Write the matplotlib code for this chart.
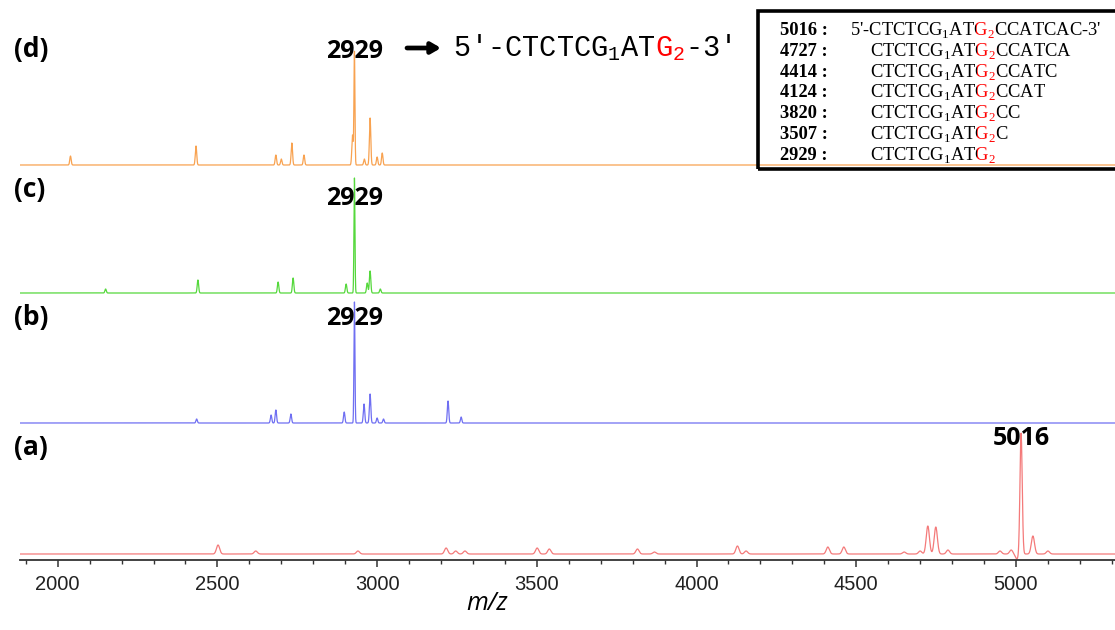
import numpy as np
import matplotlib.pyplot as plt
from matplotlib.ticker import MultipleLocator
from matplotlib.patches import Rectangle
from matplotlib.transforms import Bbox

plt.rcParams["mathtext.fontset"] = "custom"
plt.rcParams["mathtext.rm"] = "Liberation Serif"
plt.rcParams["mathtext.tt"] = "Liberation Mono"

W, H = 1115, 630

# peak lists: m/z and height above each trace's own baseline
a_mz = [2502, 2620, 2940, 3216, 3246, 3275, 3501, 3539, 3815, 3868, 4128, 4155,
        4411, 4461, 4650, 4700, 4724, 4749, 4787, 4950, 4985, 5003, 5016, 5053, 5100]
a_int = [9, 3, 3, 6, 3, 3, 6, 5, 5, 2, 8, 3,
         7, 7, 2, 3, 28, 27, 4, 3, 4, -5, 121, 18, 3]

b_mz = [2435, 2668, 2683, 2730, 2897, 2929, 2959, 2978, 3000, 3020, 3222, 3263]
b_int = [4, 8, 13, 9, 11, 121, 19, 29, 5, 4, 22, 6]

c_mz = [2150, 2439, 2690, 2737, 2903, 2929, 2969, 2978, 3010]
c_int = [4, 13, 11, 15, 9, 115, 10, 22, 4]

d_mz = [2040, 2433, 2683, 2700, 2733, 2771, 2923, 2929, 2960, 2978, 3000, 3016]
d_int = [9, 19, 10, 6, 22, 10, 30, 113, 6, 47, 8, 12]

# stacking offsets (bottom to top)
offsets = {"a": 6, "b": 137, "c": 267, "d": 395}
colors = {"a": "#f47a7a", "b": "#6f6ff2", "c": "#55d83c", "d": "#f8a250"}
widths = {"a": 5.0, "b": 2.2, "c": 2.2, "d": 2.2}

table_mass = [5016, 4727, 4414, 4124, 3820, 3507, 2929]
table_tail = ["CCATCAC-3'", "CCATCA", "CCATC", "CCAT", "CC", "C", ""]

mz = np.arange(1878, 5314, 0.5)


def trace(centers, heights, sigma):
    y = np.zeros_like(mz)
    for c, h in zip(centers, heights):
        s = sigma * 0.7 if abs(h) > 50 else sigma
        y += h * np.exp(-0.5 * ((mz - c) / s) ** 2)
    return y


fig = plt.figure(figsize=(W / 100, H / 100), dpi=100)
ax = fig.add_axes([20 / W, 1 - 560 / H, 1 - 20 / W, 560 / H])

series = {"a": (a_mz, a_int), "b": (b_mz, b_int), "c": (c_mz, c_int), "d": (d_mz, d_int)}
for key, (cs, hs) in series.items():
    ax.plot(mz, offsets[key] + trace(cs, hs, widths[key]), color=colors[key], lw=0.9)

ax.set_xlim(1882, 5310)
ax.set_ylim(0, 560)
for s in ["top", "right", "left"]:
    ax.spines[s].set_visible(False)
ax.spines["bottom"].set_color("#333333")
ax.spines["bottom"].set_linewidth(1.3)
ax.set_yticks([])
ax.xaxis.set_major_locator(MultipleLocator(500))
ax.xaxis.set_minor_locator(MultipleLocator(100))
ax.tick_params(axis="x", which="major", length=5, width=1.1, color="#333333", pad=6,
               labelsize=14.5, labelcolor="#222222")
ax.tick_params(axis="x", which="minor", length=3, width=1.0, color="#333333")
ax.set_xticks([2000, 2500, 3000, 3500, 4000, 4500, 5000])
for lab in ax.get_xticklabels():
    lab.set_family("Liberation Sans")

fig.text(487 / W, 1 - 604 / H, "m/z", fontsize=18, style="italic", family="Open Sans",
         ha="center", va="center")

# panel letters
for key, py in zip(["d", "c", "b", "a"], [49, 190, 318, 448]):
    fig.text(14 / W, 1 - py / H, f"({key})", fontsize=19, weight="bold",
             family="Open Sans", ha="left", va="center")

# peak labels, placed over the labelled mass
for mass, py in [(2929, 58), (2929, 205), (2929, 325), (5016, 445)]:
    ax.text(mass, 560 - py, str(mass), fontsize=18, weight="bold", family="Open Sans",
            ha="center", va="baseline")

renderer = fig.canvas.get_renderer()


def text_width(s, **kw):
    t = fig.text(0, 0, s, **kw)
    w = t.get_window_extent(renderer).width
    t.remove()
    return w


def seq_text(x, y, head, red, tail, **kw):
    """One string drawn three times, clipped so that only `red` shows in red.
    x, y: left edge and baseline in pixels from the top-left corner."""
    kw.update(ha="left", va="baseline")
    x_red = x + text_width(head, **kw) + 0.8
    x_end = x + text_width(head + red, **kw) + 0.8
    full = head + red + tail
    for color, x0, x1 in [("black", 0, x_red), ("red", x_red, x_end), ("black", x_end, W)]:
        t = fig.text(x / W, 1 - y / H, full, color=color, **kw)
        t.set_clip_box(Bbox([[x0, 0], [x1, H]]))


# sequence of the 2929 fragment
mono = ["Liberation Mono", "DejaVu Sans Mono"]
seq_text(453, 56, "5\u2032-CTCTCG$_\\mathtt{1}$AT", "G$_\\mathtt{2}$", "-3\u2032",
         fontsize=20.6, family=mono)
ax.annotate("", xy=(441 / W, 1 - 48 / H), xytext=(407 / W, 1 - 48 / H),
            xycoords="figure fraction", textcoords="figure fraction",
            arrowprops=dict(arrowstyle="-|>,head_length=0.55,head_width=0.32",
                            lw=3.4, color="black", shrinkA=0, shrinkB=0))

# ladder table
fig.patches.append(Rectangle((758 / W, 1 - 169 / H), 400 / W, 158 / H,
                             transform=fig.transFigure, fill=False, lw=2.6,
                             edgecolor="black", zorder=5))
serif = ["Liberation Serif", "DejaVu Serif"]
tsize = 13.3
lead = text_width("5'-", fontsize=tsize, family=serif) + 1
for i, (mass, tail) in enumerate(zip(table_mass, table_tail)):
    yb = 35 + i * 20.8
    fig.text(780 / W, 1 - yb / H, f"{mass} :", fontsize=tsize, weight="bold",
             family=serif, ha="left", va="baseline")
    head = "CTCTCG$_\\mathrm{1}$AT"
    x0 = 870
    if i == 0:
        head = "5'-" + head
        x0 -= lead
    seq_text(x0, yb, head, "G$_\\mathrm{2}$", tail, fontsize=tsize, family=serif)

fig.savefig("out.png", dpi=100)
